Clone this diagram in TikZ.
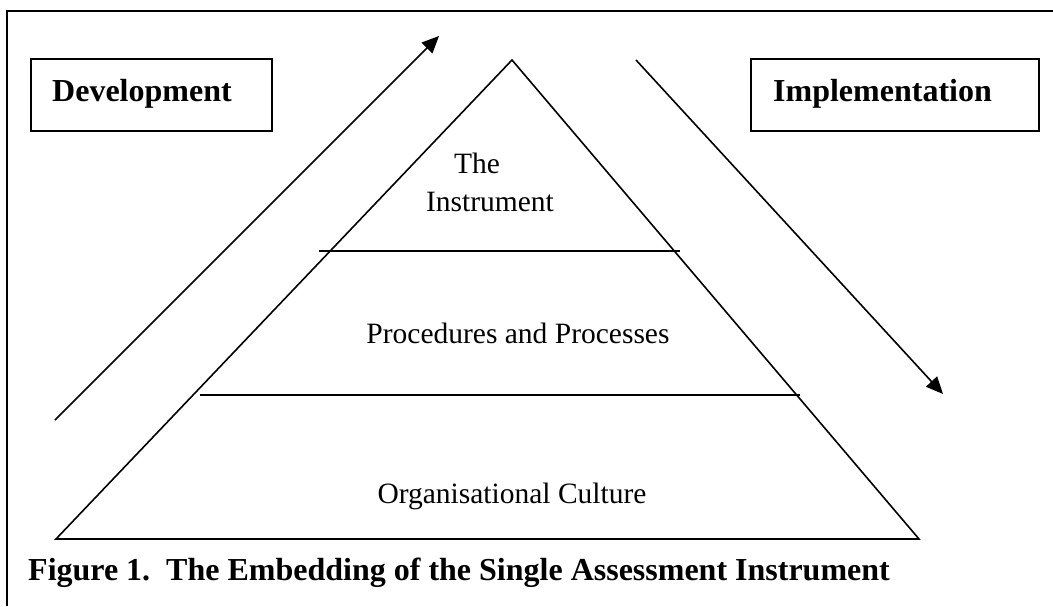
\documentclass[tikz,border=0pt]{standalone}
\usepackage{fontspec}
\setmainfont{Liberation Serif}
\usetikzlibrary{arrows.meta}
\begin{document}
\begin{tikzpicture}[x=1pt,y=-1pt,
  thin line/.style={line width=1.6pt},
  rule line/.style={line width=1.9pt},
  flow arrow/.style={line width=1.6pt,-{Triangle[length=17pt,width=15pt]}},
  labelbox/.style={draw,line width=1.6pt,minimum width=241pt,minimum height=72pt,inner sep=0pt},
  boldtext/.style={inner sep=0pt,font=\fontsize{32}{38}\selectfont\bfseries},
  plaintext/.style={inner sep=0pt,font=\fontsize{29.5}{35}\selectfont}]
\useasboundingbox (0,0) rectangle (1053,606);

% frame (left and top sides)
\draw[thin line] (7,606) -- (7,11) -- (1053,11);

% headline boxes
\node[labelbox] (devbox) at (151.5,95) {};
\node[boldtext,anchor=base west] (devtext) at (52,101) {Development};
\node[labelbox,minimum width=288pt] (impbox) at (895,95) {};
\node[boldtext,anchor=base west] (imptext) at (773,101) {Implementation};

% pyramid
\coordinate (apex) at (512,60);
\coordinate (bl) at (56,539);
\coordinate (br) at (919,539);
\draw[thin line,line join=miter] (bl) -- (apex) -- (br) -- cycle;

% layer dividers
\coordinate (l1a) at (319,251);
\coordinate (l1b) at (680,251);
\coordinate (l2a) at (200,395);
\coordinate (l2b) at (800,395);
\draw[rule line] (l1a) -- (l1b);
\draw[rule line] (l2a) -- (l2b);

% layer labels
\node[plaintext,anchor=base] (the) at (477,173) {The};
\node[plaintext,anchor=base] (instr) at (490,211) {Instrument};
\node[plaintext,anchor=base] (proc) at (518,343) {Procedures and Processes};
\node[plaintext,anchor=base] (org) at (512,503) {Organisational Culture};

% direction arrows
\coordinate (devtail) at (55,420);
\coordinate (devtip) at (439,36);
\draw[flow arrow] (devtail) -- (devtip);
\coordinate (imptail) at (636,60);
\coordinate (imptip) at (943,394);
\draw[flow arrow] (imptail) -- (imptip);

% caption
\node[boldtext,anchor=base west] (caption) at (28,580) {Figure 1.\ \ The Embedding of the Single Assessment Instrument};
\end{tikzpicture}
\end{document}
